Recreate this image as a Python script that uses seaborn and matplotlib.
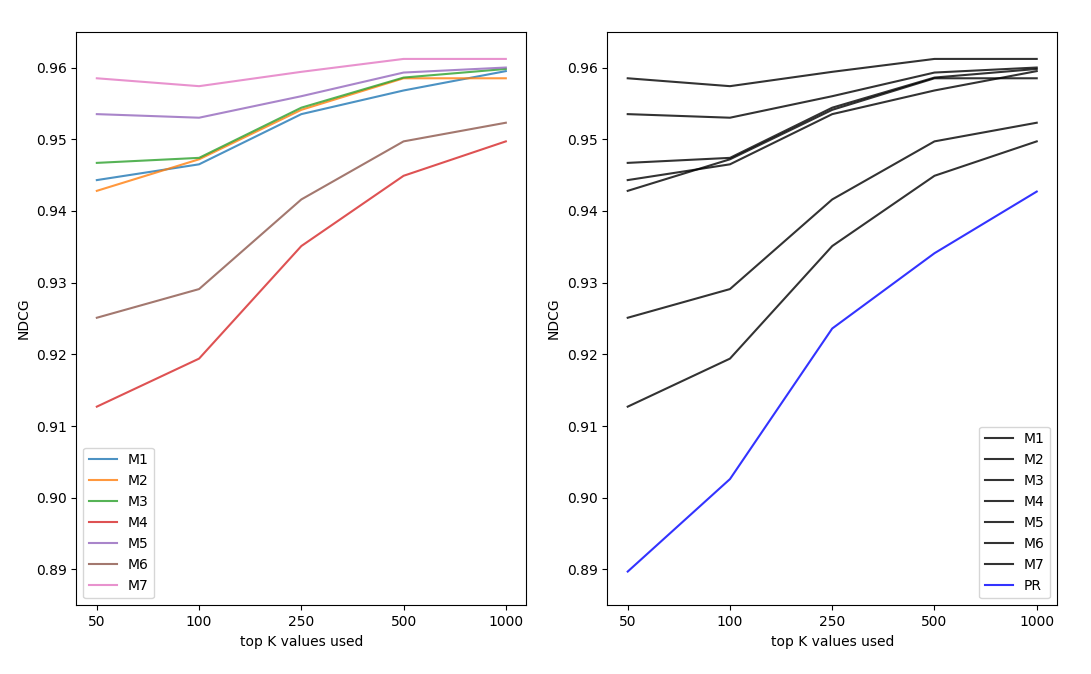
import pandas as pd
import matplotlib
matplotlib.use('Agg')
import matplotlib.pyplot as plt
import seaborn as sns

# top K categories on the x axis
top_k = ['50', '100', '250', '500', '1000']

# NDCG per model
m1 = [0.9443, 0.9465, 0.9535, 0.9568, 0.9595]
m2 = [0.9428, 0.9472, 0.9541, 0.9585, 0.9585]
m3 = [0.9467, 0.9474, 0.9544, 0.9586, 0.9598]
m4 = [0.9127, 0.9194, 0.9351, 0.9449, 0.9497]
m5 = [0.9535, 0.9530, 0.9560, 0.9593, 0.9600]
m6 = [0.9251, 0.9291, 0.9416, 0.9497, 0.9523]
m7 = [0.9585, 0.9574, 0.9594, 0.9612, 0.9612]
pr = [0.8897, 0.9026, 0.9236, 0.9341, 0.9427]

model_names = ['M1', 'M2', 'M3', 'M4', 'M5', 'M6', 'M7']
model_values = [m1, m2, m3, m4, m5, m6, m7]


def to_long(names, series):
    rows = []
    for name, vals in zip(names, series):
        for k, v in zip(top_k, vals):
            rows.append({'k': k, 'ndcg': v, 'model': name})
    return pd.DataFrame(rows)


df_left = to_long(model_names, model_values)
df_right = to_long(model_names + ['PR'], model_values + [pr])

fig, axes = plt.subplots(1, 2, figsize=(10.91, 6.74), dpi=100)
fig.subplots_adjust(left=0.07, right=0.969, bottom=0.102, top=0.953, wspace=0.18)

# left: each model in its own colour
sns.lineplot(data=df_left, x='k', y='ndcg', hue='model',
             palette=sns.color_palette('tab10', 7), alpha=0.8, ax=axes[0])
sns.move_legend(axes[0], 'lower left', title=None)

# right: models in black, PR in blue
right_palette = {name: 'black' for name in model_names}
right_palette['PR'] = 'blue'
sns.lineplot(data=df_right, x='k', y='ndcg', hue='model',
             palette=right_palette, alpha=0.8, ax=axes[1])
sns.move_legend(axes[1], 'lower right', title=None)

for ax in axes:
    ax.set_xlabel('top K values used')
    ax.set_ylabel('NDCG')
    ax.set_ylim(0.885, 0.965)

plt.savefig('out.png', dpi=100)
